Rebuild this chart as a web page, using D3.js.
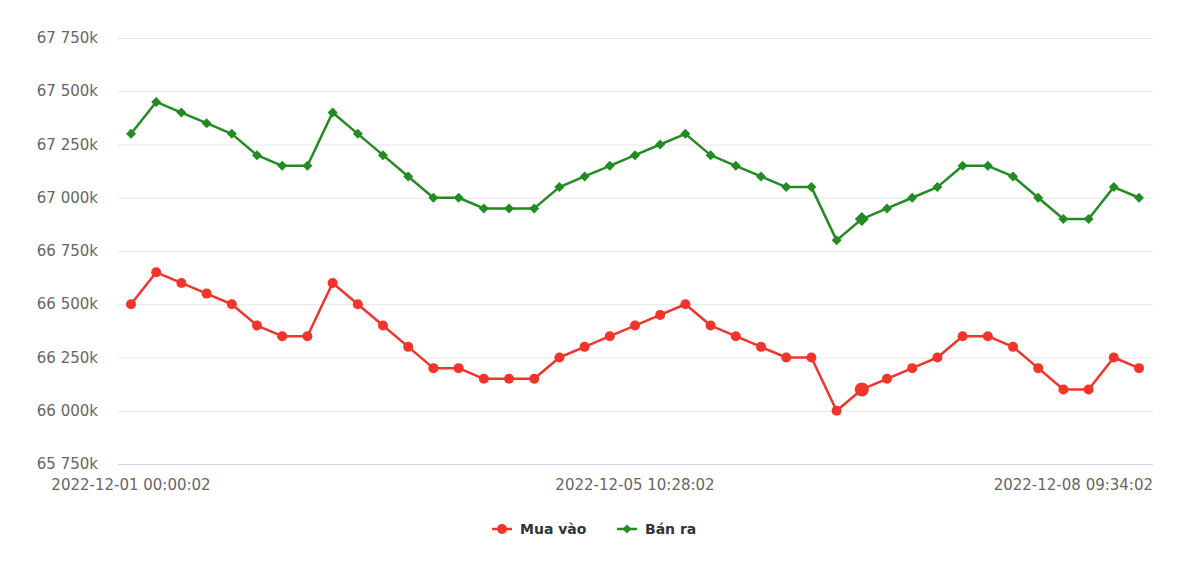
<!DOCTYPE html>
<html><head><meta charset="utf-8">
<script src="https://cdn.jsdelivr.net/npm/d3@7"></script>
<style>body{margin:0;background:#fff}svg{display:block}</style>
</head><body>
<svg id="c" width="1200" height="581"></svg>
<script>
const categoryCount = 41;
const xTickIndex = [0, 20, 40];
const xTickLabels = ["2022-12-01 00:00:02", "2022-12-05 10:28:02", "2022-12-08 09:34:02"];
const yTicks = [65750000, 66000000, 66250000, 66500000, 66750000, 67000000, 67250000, 67500000, 67750000];
const muaVao = [66500,66650,66600,66550,66500,66400,66350,66350,66600,66500,66400,66300,66200,66200,66150,66150,66150,66250,66300,66350,66400,66450,66500,66400,66350,66300,66250,66250,66000,66100,66150,66200,66250,66350,66350,66300,66200,66100,66100,66250,66200];
const banRa = [67300,67450,67400,67350,67300,67200,67150,67150,67400,67300,67200,67100,67000,67000,66950,66950,66950,67050,67100,67150,67200,67250,67300,67200,67150,67100,67050,67050,66800,66900,66950,67000,67050,67150,67150,67100,67000,66900,66900,67050,67000];
const seriesNames = ["Mua vào", "Bán ra"];
const hoverIndex = 29;

const svg = d3.select("#c");
const plotL = 118, plotR = 1153;
const x = d3.scaleLinear().domain([0, categoryCount - 1]).range([131, 1139]);
const y = d3.scaleLinear().domain([65750000, 67750000]).range([464, 38]);
const font = "'DejaVu Sans', Verdana, sans-serif";
const fmt = v => { const k = Math.round(v / 1000); return String(k).replace(/\B(?=(\d{3})+(?!\d))/g, " ") + "k"; };

// grid
svg.append("g").selectAll("line").data(yTicks).join("line")
  .attr("x1", plotL).attr("x2", plotR)
  .attr("y1", d => y(d) + 0.5).attr("y2", d => y(d) + 0.5)
  .attr("stroke", d => d === 65750000 ? "#ccd6eb" : "#e6e6e6").attr("stroke-width", 1);

// y labels
svg.append("g").selectAll("text").data(yTicks).join("text")
  .attr("x", 98).attr("y", d => y(d) + 5)
  .attr("text-anchor", "end").attr("font-family", font).attr("font-size", 15).attr("fill", "#666")
  .text(fmt);

// x labels
svg.append("g").selectAll("text").data(xTickIndex).join("text")
  .attr("x", (d, i) => i === xTickIndex.length - 1 ? plotR : x(d))
  .attr("y", 490)
  .attr("text-anchor", (d, i) => i === xTickIndex.length - 1 ? "end" : "middle")
  .attr("font-family", font).attr("font-size", 15).attr("fill", "#666")
  .text((d, i) => xTickLabels[i]);

const red = "#f2352a", green = "#228b22";
const series = [
  {name: seriesNames[0], data: muaVao, color: red, sym: "circle"},
  {name: seriesNames[1], data: banRa, color: green, sym: "diamond"}
];
const line = d3.line().x((d, i) => x(i)).y(d => y(d * 1000));
const symPath = (type, r) => type === "circle"
  ? d3.symbol(d3.symbolCircle, Math.PI * r * r)()
  : d3.symbol(d3.symbolSquare, 2 * r * r)();

series.forEach(s => {
  const g = svg.append("g");
  g.append("path").attr("d", line(s.data)).attr("fill", "none")
    .attr("stroke", s.color).attr("stroke-width", 2.5).attr("stroke-linejoin", "round");
  g.selectAll("path.m").data(s.data).join("path").attr("class", "m")
    .attr("d", (d, i) => symPath(s.sym, i === hoverIndex ? 7 : 5))
    .attr("transform", (d, i) => `translate(${x(i)},${y(d * 1000)})` + (s.sym === "diamond" ? " rotate(45)" : ""))
    .attr("fill", s.color);
});

// legend
const leg = svg.append("g");
const legItems = [{x: 492, tx: 520}, {x: 617, tx: 645}];
series.forEach((s, i) => {
  const lx = legItems[i].x, ly = 529;
  leg.append("line").attr("x1", lx).attr("x2", lx + 20).attr("y1", ly).attr("y2", ly)
    .attr("stroke", s.color).attr("stroke-width", 2.5);
  leg.append("path").attr("d", symPath(s.sym, s.sym === "circle" ? 5 : 4.5))
    .attr("transform", `translate(${lx + 10},${ly})` + (s.sym === "diamond" ? " rotate(45)" : ""))
    .attr("fill", s.color);
  leg.append("text").attr("x", legItems[i].tx).attr("y", ly + 5)
    .attr("font-family", font).attr("font-size", 14).attr("font-weight", "bold").attr("fill", "#333")
    .text(s.name);
});
</script>
</body></html>
